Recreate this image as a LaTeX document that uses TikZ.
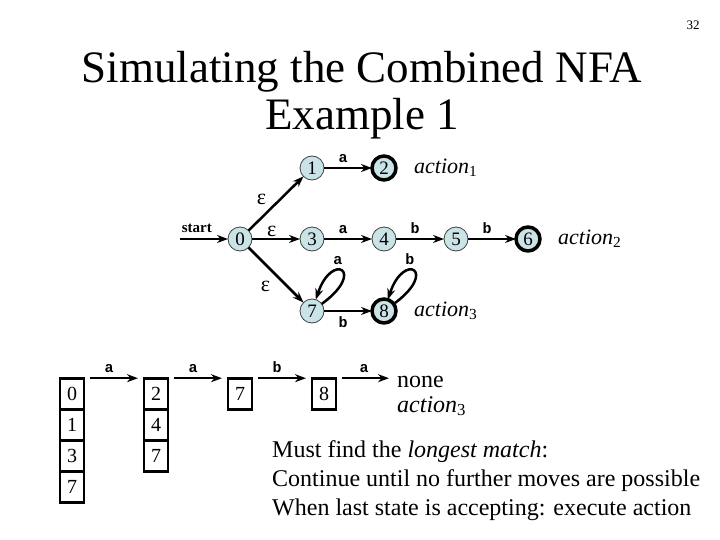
\documentclass[tikz,border=0pt]{standalone}
\usepackage{fontspec}
\setmainfont{Liberation Serif}
\setmonofont{Liberation Mono}
\usetikzlibrary{positioning, arrows.meta}
\definecolor{statefill}{RGB}{202,227,231}

\begin{document}
\begin{tikzpicture}[x = 1pt, y = -1pt, node distance = 48pt,
  state/.style = {circle, draw = black!75, line width = 0.8pt, fill = statefill, minimum size = 24pt, inner sep = 0pt, outer sep = 0pt, font = \fontsize{19}{19}\selectfont},
  accept/.style = {state, draw = black, line width = 3.5pt},
  arr/.style = {line width = 2.5pt, -{Stealth[length = 11pt, width = 8pt]}},
  sym/.style = {font = \fontsize{15}{15}\selectfont\ttfamily\bfseries, inner sep = 4.5pt, pos = 0.4},
  eps/.style = {font = \fontsize{22}{22}\selectfont, inner sep = 1pt},
  act/.style = {font = \fontsize{22}{22}\selectfont\itshape, inner sep = 0pt},
  cell/.style = {draw, line width = 2.7pt, minimum width = 24pt, minimum height = 31pt, inner sep = 0pt, outer sep = 0pt, font = \fontsize{20}{20}\selectfont}]

  \useasboundingbox (0, 0) rectangle (720, 540);

  % title
  \node (page) [font = \fontsize{13}{13}\selectfont] at (693, 25) {32};
  \node (title) [font = \fontsize{45}{47}\selectfont, align = center, anchor = base] at (362, 130) {Simulating the Combined NFA\\Example 1};

  % combined NFA
  \node (s0) [state] at (240, 239) {0};
  \node (s3) [state, right = of s0] {3};
  \node (s1) [state, above = 47pt of s3] {1};
  \node (s7) [state, below = 48pt of s3] {7};
  \node (s2) [accept, right = of s1] {2};
  \node (s4) [state, right = of s3] {4};
  \node (s5) [state, right = of s4] {5};
  \node (s6) [accept, right = of s5] {6};
  \node (s8) [accept, right = of s7] {8};
  \coordinate (start) at (180, 239);

  \node (act1) [act, right = 18pt of s2] {action\textsubscript{\upshape 1}};
  \node (act2) [act, right = 18pt of s6] {action\textsubscript{\upshape 2}};
  \node (act3) [act, right = 18pt of s8] {action\textsubscript{\upshape 3}};

  \draw [arr] (start) -- node [above = 5pt, pos = 0.35, inner sep = 0pt, font = \fontsize{15}{15}\selectfont\bfseries] {start} (s0);
  \draw [arr] (s0) -- node [eps, above left = 3pt, pos = 0.4] {ε} (s1);
  \draw [arr] (s0) -- node [eps, above, pos = 0.41] {ε} (s3);
  \draw [arr] (s0) -- node [eps, below left = 5pt, pos = 0.5] {ε} (s7);
  \draw [arr] (s1) -- node [sym, above] {a} (s2);
  \draw [arr] (s3) -- node [sym, above] {a} (s4);
  \draw [arr] (s4) -- node [sym, above] {b} (s5);
  \draw [arr] (s5) -- node [sym, above] {b} (s6);
  \draw [arr] (s7) -- node [sym, below] {b} (s8);
  \draw [arr] (s7) .. controls +(55, -40) and +(20, -60) .. (s7) node [sym, above = 0pt, pos = 0.6] {a};
  \draw [arr] (s8) .. controls +(55, -40) and +(20, -60) .. (s8) node [sym, above = 0pt, pos = 0.6] {b};

  % simulation of the state sets
  \node (a0) [cell] at (72, 393.7) {0};
  \node (a1) [cell, below = 0pt of a0] {1};
  \node (a3) [cell, below = 0pt of a1] {3};
  \node (a7) [cell, below = 0pt of a3] {7};
  \node (b2) [cell] at (156, 393.7) {2};
  \node (b4) [cell, below = 0pt of b2] {4};
  \node (b7) [cell, below = 0pt of b4] {7};
  \node (c7) [cell] at (240, 393.7) {7};
  \node (d8) [cell] at (324, 393.7) {8};
  \node (none) [anchor = base west, align = left, inner sep = 0pt, font = \fontsize{24}{25}\selectfont] at (397, 412) {none\\\textit{action}\textsubscript{3}};

  \draw [arr] ([xshift = 6pt] a0.north east) -- node [sym, above] {a} ([xshift = -6pt] b2.north west);
  \draw [arr] ([xshift = 6pt] b2.north east) -- node [sym, above] {a} ([xshift = -6pt] c7.north west);
  \draw [arr] ([xshift = 6pt] c7.north east) -- node [sym, above] {b} ([xshift = -6pt] d8.north west);
  \draw [arr, shorten > = 8pt] ([xshift = 6pt] d8.north east) -- node [sym, above] {a} (d8.north east -| none.west);

  \node (rule) [anchor = base west, align = left, inner sep = 0pt, font = \fontsize{24}{29}\selectfont] at (272, 515) {Must find the \textit{longest match}:\\Continue until no further moves are possible\\When last state is accepting: execute action};
\end{tikzpicture}
\end{document}
